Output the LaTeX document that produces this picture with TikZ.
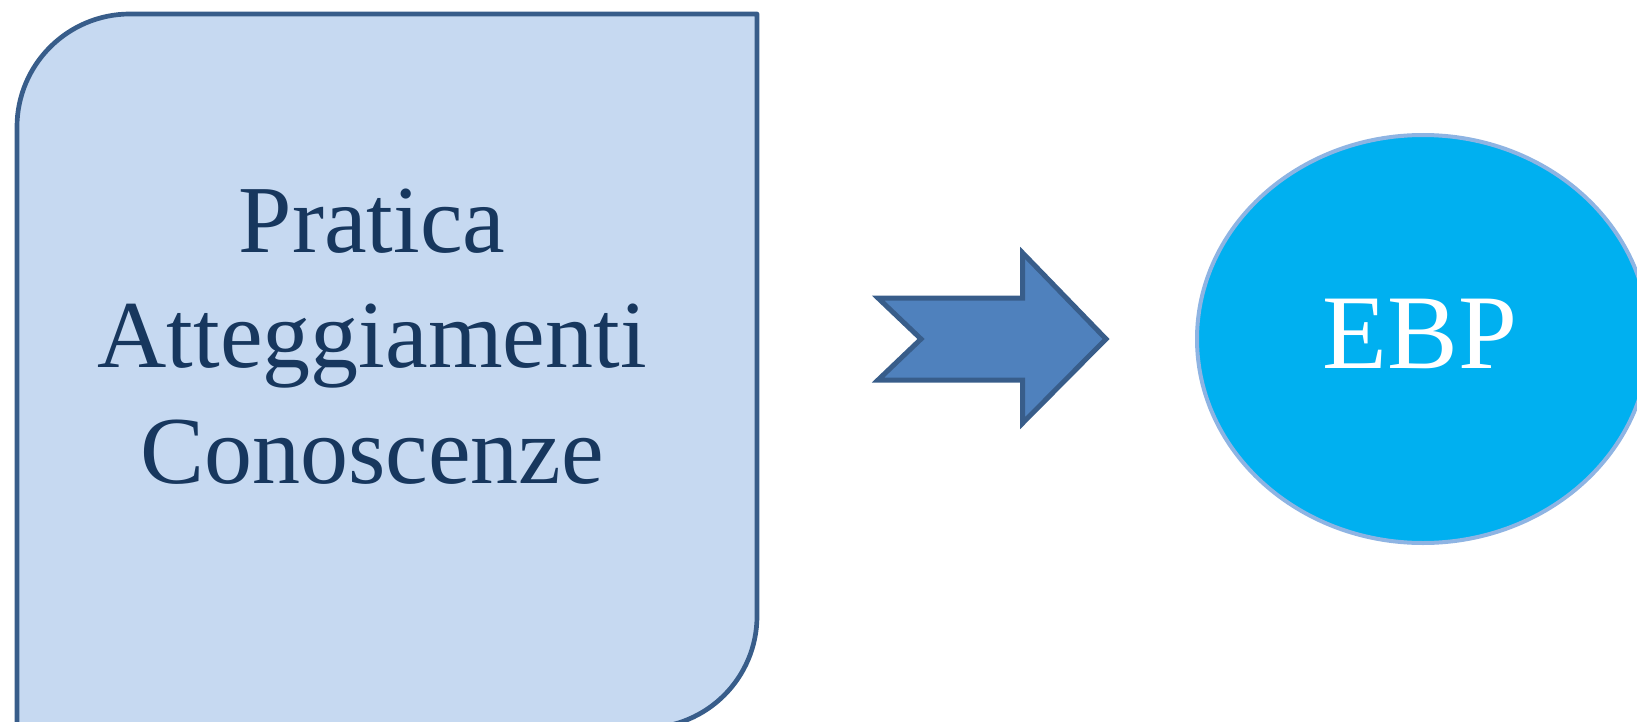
\documentclass[tikz,border=0pt]{standalone}
\usepackage{fontspec}
\setmainfont{Liberation Serif}
\usetikzlibrary{shapes.geometric}
\definecolor{boxfill}{HTML}{C6D9F1}
\definecolor{boxline}{HTML}{385D8A}
\definecolor{boxtext}{HTML}{17375E}
\definecolor{arrfill}{HTML}{4F81BD}
\definecolor{arrline}{HTML}{385D8A}
\definecolor{ellfill}{HTML}{00B0F0}
\definecolor{ellline}{HTML}{8EB4E3}
\tikzset{
  boxshape/.style={fill=boxfill,draw=boxline,line width=2.35pt,line join=round},
  boxlabel/.style={text=boxtext,font=\fontsize{48}{57.7}\selectfont,anchor=base,inner sep=0pt},
  arrowshape/.style={fill=arrfill,draw=arrline,line width=2.5pt,line join=miter},
  ellshape/.style={ellipse,fill=ellfill,draw=ellline,line width=2pt,minimum width=226pt,minimum height=204pt,inner sep=0pt},
  elllabel/.style={text=white,font=\fontsize{53}{60}\selectfont,anchor=base,inner sep=0pt}
}
\begin{document}
\begin{tikzpicture}[x=0.5pt,y=-0.5pt]
\useasboundingbox (0,0) rectangle (1637,722);
% left box
\draw[boxshape] (17,728) -- (17,127) .. controls (17,64.6) and (67.6,14) .. (130,14)
  -- (757,14) -- (757,616) .. controls (757,677.9) and (706.9,728) .. (645,728) -- cycle;
\node[boxlabel] (l1) at (372,252.6) {Pratica};
\node[boxlabel] (l2) at (372,367.8) {Atteggiamenti};
\node[boxlabel] (l3) at (372,483.4) {Conoscenze};
% arrow
\draw[arrowshape] (878,298) -- (1022.7,298) -- (1022.7,253) -- (1106,339) -- (1022.7,423)
  -- (1022.7,380) -- (878,380) -- (921,339) -- cycle;
% ellipse
\node[ellshape] (ebp) at (1423,339) {};
\node[elllabel] (ebpt) at (1420,368) {EBP};
\end{tikzpicture}
\end{document}
